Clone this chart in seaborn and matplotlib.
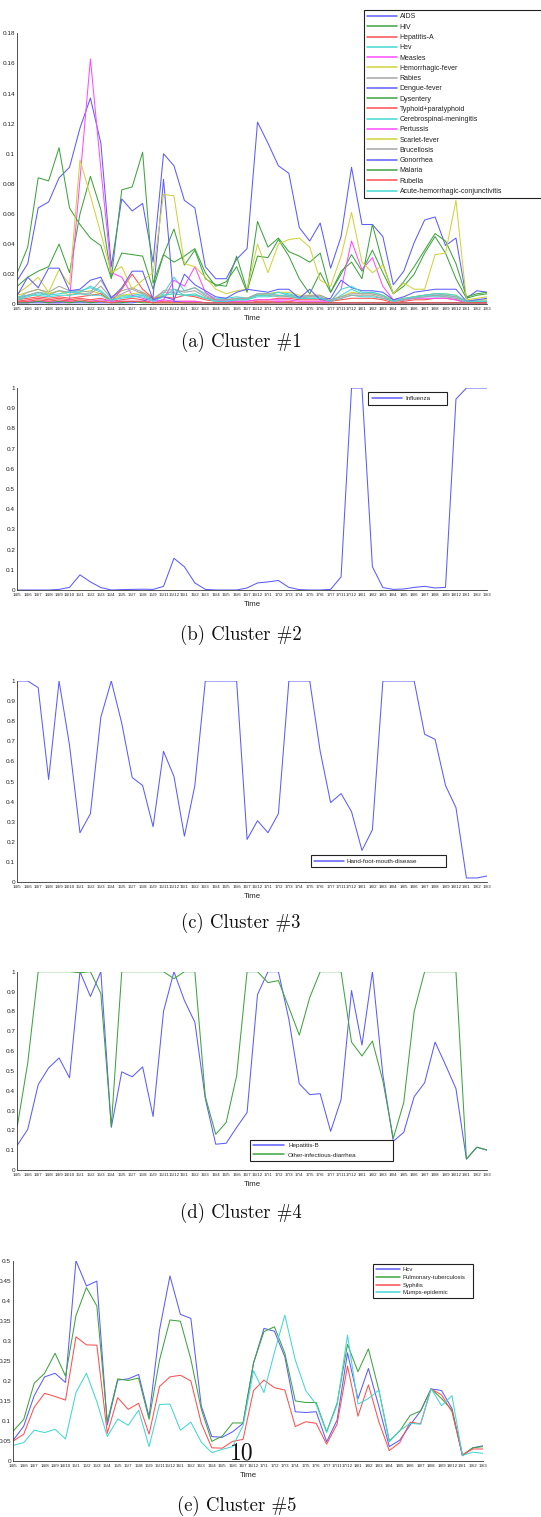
import numpy as np
import pandas as pd
import matplotlib
matplotlib.use("Agg")
import matplotlib.pyplot as plt
from matplotlib.lines import Line2D
import seaborn as sns

# ---------------- data ----------------
time_labels = ["14/5", "14/6", "14/7", "14/8", "14/9", "14/10", "15/1", "15/2", "15/3", "15/4",
               "15/5", "15/7", "15/8", "15/9", "15/11", "15/12", "16/1", "16/2", "16/3", "16/4",
               "16/5", "16/6", "16/7", "16/12", "17/1", "17/2", "17/3", "17/4", "17/5", "17/6",
               "17/7", "17/11", "17/12", "18/1", "18/2", "18/3", "18/4", "18/5", "18/6", "18/7",
               "18/8", "18/9", "18/12", "19/1", "19/2", "19/3"]

# Cluster 1
c1_names = ["AIDS", "HIV", "Hepatitis-A", "Hev", "Measles", "Hemorrhagic-fever", "Rabies",
            "Dengue-fever", "Dysentery", "Typhoid+paratyphoid", "Cerebrospinal-meningitis",
            "Pertussis", "Scarlet-fever", "Brucellosis", "Gonorrhea", "Malaria", "Rubella",
            "Acute-hemorrhagic-conjunctivitis"]
aids = [0.016, 0.027, 0.064, 0.068, 0.084, 0.091, 0.117, 0.137, 0.107, 0.025, 0.070, 0.062, 0.067, 0.028, 0.100, 0.092,
        0.069, 0.064, 0.025, 0.017, 0.017, 0.030, 0.037, 0.121, 0.107, 0.092, 0.087, 0.051, 0.042, 0.054, 0.024, 0.045,
        0.091, 0.053, 0.053, 0.045, 0.013, 0.022, 0.041, 0.056, 0.058, 0.039, 0.044, 0.004, 0.009, 0.008]
hiv = [0.012, 0.018, 0.022, 0.025, 0.040, 0.021, 0.060, 0.085, 0.063, 0.018, 0.034, 0.033, 0.032, 0.010, 0.033, 0.050,
       0.026, 0.036, 0.017, 0.013, 0.012, 0.032, 0.009, 0.032, 0.031, 0.043, 0.032, 0.017, 0.007, 0.021, 0.008, 0.020,
       0.033, 0.022, 0.036, 0.021, 0.007, 0.012, 0.020, 0.034, 0.045, 0.034, 0.017, 0.004, 0.006, 0.007]
hepa = [0.002, 0.003, 0.004, 0.003, 0.004, 0.003, 0.004, 0.003, 0.004, 0.002, 0.003, 0.004, 0.003, 0.001, 0.002, 0.002,
        0.002, 0.002, 0.001, 0.001, 0.001, 0.001, 0.001, 0.002, 0.002, 0.002, 0.002, 0.001, 0.001, 0.001, 0.001, 0.001,
        0.001, 0.001, 0.001, 0.001, 0.001, 0.001, 0.001, 0.001, 0.001, 0.001, 0.001, 0.001, 0.001, 0.001]
hev = [0.004, 0.006, 0.008, 0.007, 0.009, 0.008, 0.009, 0.011, 0.008, 0.003, 0.006, 0.006, 0.007, 0.003, 0.007, 0.018,
       0.009, 0.011, 0.007, 0.004, 0.004, 0.005, 0.004, 0.007, 0.007, 0.008, 0.007, 0.005, 0.005, 0.005, 0.002, 0.006,
       0.010, 0.007, 0.008, 0.006, 0.002, 0.003, 0.005, 0.006, 0.006, 0.006, 0.005, 0.002, 0.002, 0.002]
measles = [0.001, 0.001, 0.002, 0.001, 0.001, 0.003, 0.083, 0.163, 0.090, 0.021, 0.018, 0.006, 0.004, 0.002, 0.003, 0.002,
           0.002, 0.002, 0.001, 0.001, 0.001, 0.001, 0.001, 0.001, 0.001, 0.002, 0.001, 0.001, 0.001, 0.001, 0.001, 0.001,
           0.001, 0.001, 0.001, 0.001, 0.001, 0.001, 0.001, 0.001, 0.001, 0.001, 0.001, 0.001, 0.001, 0.001]
hemorrhagic = [0.006, 0.008, 0.010, 0.007, 0.009, 0.006, 0.008, 0.009, 0.007, 0.003, 0.006, 0.007, 0.008, 0.004, 0.006, 0.007,
               0.006, 0.006, 0.004, 0.003, 0.003, 0.003, 0.004, 0.006, 0.007, 0.008, 0.008, 0.006, 0.006, 0.006, 0.003, 0.005,
               0.008, 0.007, 0.007, 0.006, 0.003, 0.004, 0.005, 0.006, 0.007, 0.007, 0.006, 0.002, 0.003, 0.003]
rabies = [0.004, 0.008, 0.010, 0.008, 0.012, 0.009, 0.009, 0.008, 0.016, 0.005, 0.009, 0.011, 0.008, 0.004, 0.008, 0.008,
          0.009, 0.011, 0.006, 0.003, 0.003, 0.004, 0.004, 0.007, 0.007, 0.006, 0.006, 0.005, 0.006, 0.006, 0.003, 0.005,
          0.007, 0.007, 0.007, 0.005, 0.002, 0.003, 0.005, 0.006, 0.007, 0.006, 0.005, 0.002, 0.002, 0.002]
dengue = [0.001, 0.001, 0.001, 0.001, 0.001, 0.001, 0.001, 0.001, 0.001, 0.001, 0.001, 0.001, 0.002, 0.005, 0.083, 0.002,
          0.001, 0.001, 0.001, 0.001, 0.001, 0.001, 0.001, 0.001, 0.001, 0.001, 0.001, 0.001, 0.001, 0.001, 0.001, 0.001,
          0.001, 0.001, 0.001, 0.001, 0.001, 0.001, 0.001, 0.001, 0.001, 0.001, 0.001, 0.001, 0.001, 0.001]
dysentery = [0.021, 0.038, 0.084, 0.082, 0.104, 0.064, 0.053, 0.044, 0.039, 0.017, 0.076, 0.078, 0.101, 0.014, 0.033, 0.028,
             0.032, 0.037, 0.021, 0.012, 0.015, 0.025, 0.008, 0.055, 0.038, 0.044, 0.035, 0.032, 0.028, 0.034, 0.008, 0.022,
             0.028, 0.017, 0.053, 0.027, 0.007, 0.015, 0.025, 0.036, 0.047, 0.042, 0.027, 0.005, 0.007, 0.008]
typhoid = [0.003, 0.004, 0.005, 0.004, 0.005, 0.004, 0.005, 0.006, 0.007, 0.002, 0.010, 0.020, 0.010, 0.004, 0.005, 0.004,
           0.006, 0.005, 0.003, 0.002, 0.002, 0.002, 0.002, 0.003, 0.003, 0.004, 0.004, 0.003, 0.003, 0.003, 0.002, 0.003,
           0.004, 0.004, 0.004, 0.003, 0.001, 0.002, 0.003, 0.003, 0.004, 0.004, 0.003, 0.001, 0.001, 0.001]
cerebro = [0.005, 0.006, 0.006, 0.005, 0.006, 0.006, 0.007, 0.006, 0.006, 0.002, 0.005, 0.005, 0.005, 0.002, 0.006, 0.007,
           0.006, 0.007, 0.004, 0.002, 0.002, 0.003, 0.003, 0.005, 0.005, 0.006, 0.005, 0.004, 0.004, 0.004, 0.002, 0.004,
           0.006, 0.005, 0.005, 0.004, 0.002, 0.003, 0.004, 0.005, 0.005, 0.005, 0.004, 0.001, 0.002, 0.002]
pertussis = [0.001, 0.002, 0.002, 0.002, 0.002, 0.002, 0.002, 0.002, 0.003, 0.002, 0.002, 0.002, 0.002, 0.001, 0.003, 0.016,
             0.012, 0.025, 0.008, 0.003, 0.002, 0.002, 0.002, 0.003, 0.003, 0.003, 0.003, 0.002, 0.002, 0.002, 0.002, 0.010,
             0.042, 0.023, 0.031, 0.012, 0.003, 0.003, 0.004, 0.004, 0.004, 0.004, 0.003, 0.001, 0.001, 0.001]
scarlet = [0.007, 0.012, 0.018, 0.008, 0.023, 0.013, 0.096, 0.072, 0.047, 0.021, 0.025, 0.010, 0.016, 0.021, 0.073, 0.072,
           0.027, 0.025, 0.018, 0.010, 0.007, 0.009, 0.010, 0.040, 0.021, 0.040, 0.043, 0.044, 0.038, 0.016, 0.012, 0.032,
           0.061, 0.028, 0.021, 0.026, 0.007, 0.014, 0.010, 0.010, 0.033, 0.034, 0.069, 0.003, 0.004, 0.005]
brucellosis = [0.003, 0.006, 0.008, 0.006, 0.009, 0.008, 0.007, 0.007, 0.012, 0.004, 0.007, 0.010, 0.007, 0.003, 0.009, 0.010,
               0.008, 0.009, 0.005, 0.003, 0.003, 0.004, 0.004, 0.006, 0.006, 0.005, 0.005, 0.004, 0.005, 0.005, 0.002, 0.004,
               0.006, 0.006, 0.006, 0.004, 0.002, 0.003, 0.004, 0.005, 0.006, 0.005, 0.004, 0.001, 0.002, 0.002]
gonorrhea = [0.006, 0.018, 0.011, 0.024, 0.024, 0.009, 0.010, 0.016, 0.018, 0.004, 0.011, 0.022, 0.022, 0.003, 0.005, 0.003,
             0.020, 0.013, 0.009, 0.005, 0.004, 0.008, 0.010, 0.009, 0.008, 0.010, 0.010, 0.004, 0.010, 0.003, 0.004, 0.016,
             0.011, 0.009, 0.009, 0.008, 0.003, 0.005, 0.008, 0.009, 0.010, 0.010, 0.010, 0.002, 0.003, 0.004]
malaria = [0.001, 0.001, 0.002, 0.001, 0.002, 0.001, 0.002, 0.001, 0.002, 0.001, 0.001, 0.002, 0.001, 0.001, 0.001, 0.001,
           0.001, 0.001, 0.001, 0.001, 0.001, 0.001, 0.001, 0.001, 0.001, 0.001, 0.001, 0.001, 0.001, 0.001, 0.001, 0.001,
           0.001, 0.001, 0.001, 0.001, 0.001, 0.001, 0.001, 0.001, 0.001, 0.001, 0.001, 0.001, 0.001, 0.001]
rubella = [0.002, 0.002, 0.003, 0.002, 0.003, 0.002, 0.003, 0.002, 0.002, 0.001, 0.002, 0.002, 0.002, 0.001, 0.001, 0.001,
           0.001, 0.001, 0.001, 0.001, 0.001, 0.001, 0.001, 0.001, 0.001, 0.001, 0.001, 0.001, 0.001, 0.001, 0.001, 0.001,
           0.001, 0.001, 0.001, 0.001, 0.001, 0.001, 0.001, 0.001, 0.001, 0.001, 0.001, 0.001, 0.001, 0.001]
acute = [0.003, 0.005, 0.007, 0.006, 0.007, 0.008, 0.008, 0.012, 0.009, 0.003, 0.004, 0.005, 0.006, 0.002, 0.005, 0.010,
         0.006, 0.006, 0.004, 0.002, 0.002, 0.003, 0.003, 0.006, 0.006, 0.008, 0.006, 0.004, 0.004, 0.004, 0.002, 0.010,
         0.012, 0.008, 0.008, 0.006, 0.002, 0.004, 0.005, 0.006, 0.007, 0.007, 0.006, 0.002, 0.002, 0.002]
c1_values = [aids, hiv, hepa, hev, measles, hemorrhagic, rabies, dengue, dysentery, typhoid, cerebro,
             pertussis, scarlet, brucellosis, gonorrhea, malaria, rubella, acute]

# Cluster 2
c2_names = ["Influenza"]
influenza = [0.0, 0.0, 0.0, 0.0, 0.003, 0.013, 0.075, 0.040, 0.012, 0.0, 0.002, 0.003, 0.004, 0.003, 0.018, 0.157,
             0.115, 0.035, 0.003, 0.0, 0.0, 0.0, 0.010, 0.035, 0.040, 0.047, 0.013, 0.002, 0.0, 0.0, 0.003, 0.065,
             1.0, 1.0, 0.115, 0.012, 0.003, 0.005, 0.013, 0.018, 0.010, 0.013, 0.945, 1.0, 1.0, 1.0]

# Cluster 3
c3_names = ["Hand-foot-mouth-disease"]
hfmd = [1.0, 1.0, 0.967, 0.51, 1.0, 0.68, 0.245, 0.34, 0.82, 1.0, 0.79, 0.52, 0.48, 0.275, 0.65, 0.525,
        0.228, 0.48, 1.0, 1.0, 1.0, 1.0, 0.212, 0.305, 0.245, 0.34, 1.0, 1.0, 1.0, 0.65, 0.395, 0.44,
        0.35, 0.157, 0.26, 1.0, 1.0, 1.0, 1.0, 0.735, 0.71, 0.48, 0.37, 0.02, 0.02, 0.03]

# Cluster 4
c4_names = ["Hepatitis-B", "Other-infectious-diarrhea"]
hepb = [0.125, 0.205, 0.43, 0.515, 0.565, 0.465, 1.0, 0.875, 1.0, 0.215, 0.495, 0.47, 0.52, 0.27, 0.8, 1.0,
        0.855, 0.745, 0.36, 0.13, 0.135, 0.215, 0.29, 0.885, 1.0, 1.0, 0.76, 0.435, 0.38, 0.385, 0.195, 0.355,
        0.905, 0.63, 1.0, 0.48, 0.145, 0.19, 0.37, 0.44, 0.645, 0.53, 0.41, 0.055, 0.115, 0.10]
diarrhea = [0.22, 0.54, 1.0, 1.0, 1.0, 1.0, 0.995, 1.0, 0.89, 0.22, 1.0, 1.0, 1.0, 1.0, 1.0, 0.965,
            1.0, 1.0, 0.37, 0.18, 0.24, 0.475, 1.0, 1.0, 0.945, 0.955, 0.82, 0.68, 0.87, 1.0, 1.0, 1.0,
            0.645, 0.575, 0.65, 0.45, 0.16, 0.34, 0.8, 1.0, 1.0, 1.0, 1.0, 0.055, 0.115, 0.10]

# Cluster 5
c5_names = ["Hcv", "Pulmonary-tuberculosis", "Syphilis", "Mumps-epidemic"]
hcv = [0.052, 0.087, 0.163, 0.21, 0.219, 0.196, 0.5, 0.437, 0.449, 0.09, 0.202, 0.205, 0.216, 0.11, 0.327, 0.462,
       0.366, 0.356, 0.137, 0.061, 0.059, 0.073, 0.094, 0.244, 0.331, 0.324, 0.26, 0.123, 0.121, 0.123, 0.048, 0.102,
       0.27, 0.155, 0.231, 0.136, 0.036, 0.052, 0.09, 0.125, 0.18, 0.176, 0.131, 0.013, 0.033, 0.038]
tb = [0.075, 0.104, 0.194, 0.219, 0.269, 0.212, 0.363, 0.433, 0.387, 0.098, 0.205, 0.201, 0.207, 0.104, 0.252, 0.352,
      0.349, 0.254, 0.129, 0.049, 0.062, 0.095, 0.095, 0.245, 0.323, 0.335, 0.269, 0.15, 0.146, 0.146, 0.073, 0.144,
      0.291, 0.223, 0.28, 0.177, 0.05, 0.075, 0.114, 0.125, 0.18, 0.156, 0.127, 0.015, 0.033, 0.036]
syphilis = [0.05, 0.067, 0.134, 0.169, 0.161, 0.152, 0.31, 0.29, 0.289, 0.069, 0.158, 0.129, 0.144, 0.067, 0.186, 0.21,
            0.214, 0.2, 0.094, 0.033, 0.032, 0.049, 0.054, 0.176, 0.202, 0.183, 0.177, 0.086, 0.098, 0.094, 0.042, 0.092,
            0.237, 0.112, 0.19, 0.098, 0.026, 0.046, 0.097, 0.093, 0.18, 0.165, 0.123, 0.015, 0.03, 0.03]
mumps = [0.039, 0.046, 0.077, 0.071, 0.079, 0.055, 0.171, 0.219, 0.148, 0.061, 0.105, 0.089, 0.127, 0.036, 0.141, 0.142,
         0.077, 0.097, 0.047, 0.021, 0.029, 0.036, 0.088, 0.225, 0.171, 0.271, 0.364, 0.252, 0.176, 0.141, 0.071, 0.14,
         0.314, 0.142, 0.156, 0.177, 0.048, 0.076, 0.094, 0.092, 0.181, 0.138, 0.163, 0.014, 0.022, 0.019]

# ---------------- style ----------------
sns.set_theme(style="white")
plt.rcParams["font.family"] = ["Liberation Sans", "DejaVu Sans"]

W, H = 541, 1517
fig = plt.figure(figsize=(W / 100, H / 100), dpi=100)

BLUE, GREEN, RED, CYAN, MAG, YEL, GRAY = "#5c5cff", "#3fa43f", "#ff5050", "#45d6d6", "#ff4cff", "#d2d23c", "#a6a6a6"
cycle = [BLUE, GREEN, RED, CYAN, MAG, YEL, GRAY]
LW = 0.75


def rect(l, r, top, bottom):
    return [l / W, 1 - bottom / H, (r - l) / W, (bottom - top) / H]


def make_panel(r, names, values, ymax, ystep, leg_box, leg_kw):
    ax = fig.add_axes(r)
    n = len(time_labels)
    df = pd.DataFrame({
        "t": np.tile(np.arange(n), len(names)),
        "v": np.concatenate([np.asarray(v, dtype=float) for v in values]),
        "disease": np.repeat(names, n),
    })
    pal = {nm: cycle[i % len(cycle)] for i, nm in enumerate(names)}
    sns.lineplot(data=df, x="t", y="v", hue="disease", hue_order=names, palette=pal,
                 estimator=None, errorbar=None, legend=False, linewidth=LW, ax=ax)
    ax.set_xlim(0, n - 1)
    ax.set_ylim(0, ymax)
    ax.set_xticks(np.arange(n))
    ax.set_xticklabels(time_labels, fontsize=3.2, color="#222222")
    yt = np.round(np.arange(0, ymax + ystep / 2, ystep), 4)
    ax.set_yticks(yt)
    ax.set_yticklabels(["%g" % v for v in yt], fontsize=4.6, color="#222222")
    ax.tick_params(axis="both", direction="in", length=3, width=0.5, pad=1.5, colors="#222222",
                   labelcolor="#222222")
    ax.tick_params(axis="x", pad=2.2)
    for s in ["top", "right"]:
        ax.spines[s].set_visible(False)
    for s in ["left", "bottom"]:
        ax.spines[s].set_color("#333333")
        ax.spines[s].set_linewidth(0.6)
    ax.set_xlabel("Time", fontsize=5.6, labelpad=2.5, color="#222222")
    ax.set_ylabel("")
    handles = [Line2D([0], [0], color=pal[nm], lw=1.1) for nm in names]
    x0, x1, top = leg_box
    leg = ax.legend(handles, names, loc="upper left",
                    bbox_to_anchor=(x0 / W, 1 - top / H, (x1 - x0) / W, 0),
                    bbox_transform=fig.transFigure, mode="expand", borderaxespad=0,
                    fancybox=False, framealpha=1, edgecolor="#222222", **leg_kw)
    leg.get_frame().set_linewidth(0.8)
    for t in leg.get_texts():
        t.set_color("#222222")
    return ax


make_panel(rect(17.3, 487.3, 33.3, 304.3), c1_names, c1_values, 0.18, 0.02,
           (364, 575, 10), dict(fontsize=5, labelspacing=0.47, handlelength=4.2, handletextpad=0.45,
                                borderpad=0.5))
make_panel(rect(17.3, 487.3, 388, 590), c2_names, [influenza], 1.0, 0.1,
           (368, 447, 392), dict(fontsize=4.5, handlelength=4.8, handletextpad=0.5, borderpad=0.6))
make_panel(rect(17.3, 487.3, 681, 882), c3_names, [hfmd], 1.0, 0.1,
           (311, 446, 855), dict(fontsize=4.5, handlelength=4.8, handletextpad=0.4, borderpad=0.55))
make_panel(rect(17.3, 487.3, 971.7, 1170), c4_names, [hepb, diarrhea], 1.0, 0.1,
           (250, 393, 1140), dict(fontsize=4.5, handlelength=5.0, handletextpad=0.6, borderpad=0.5,
                                  labelspacing=0.6))
make_panel(rect(13.3, 483.3, 1260.7, 1461), c5_names, [hcv, tb, syphilis, mumps], 0.5, 0.05,
           (373, 473, 1264), dict(fontsize=4.3, handlelength=4.0, handletextpad=0.5, borderpad=0.45,
                                  labelspacing=0.45))

cap_font = ["cmr10", "DejaVu Serif"]
captions = [("(a) Cluster #1", 241, 342), ("(b) Cluster #2", 241, 635), ("(c) Cluster #3", 241, 923),
            ("(d) Cluster #4", 241, 1213), ("(e) Cluster #5", 237, 1506)]
for txt, cx, cy in captions:
    fig.text(cx / W, 1 - cy / H, txt, ha="center", va="center", fontsize=13.5, family=cap_font,
             color="#111111")
fig.text(242 / W, 1 - 1453 / H, "10", ha="center", va="center", fontsize=17, family=cap_font,
         color="#111111")

fig.savefig("out.png", dpi=100)
